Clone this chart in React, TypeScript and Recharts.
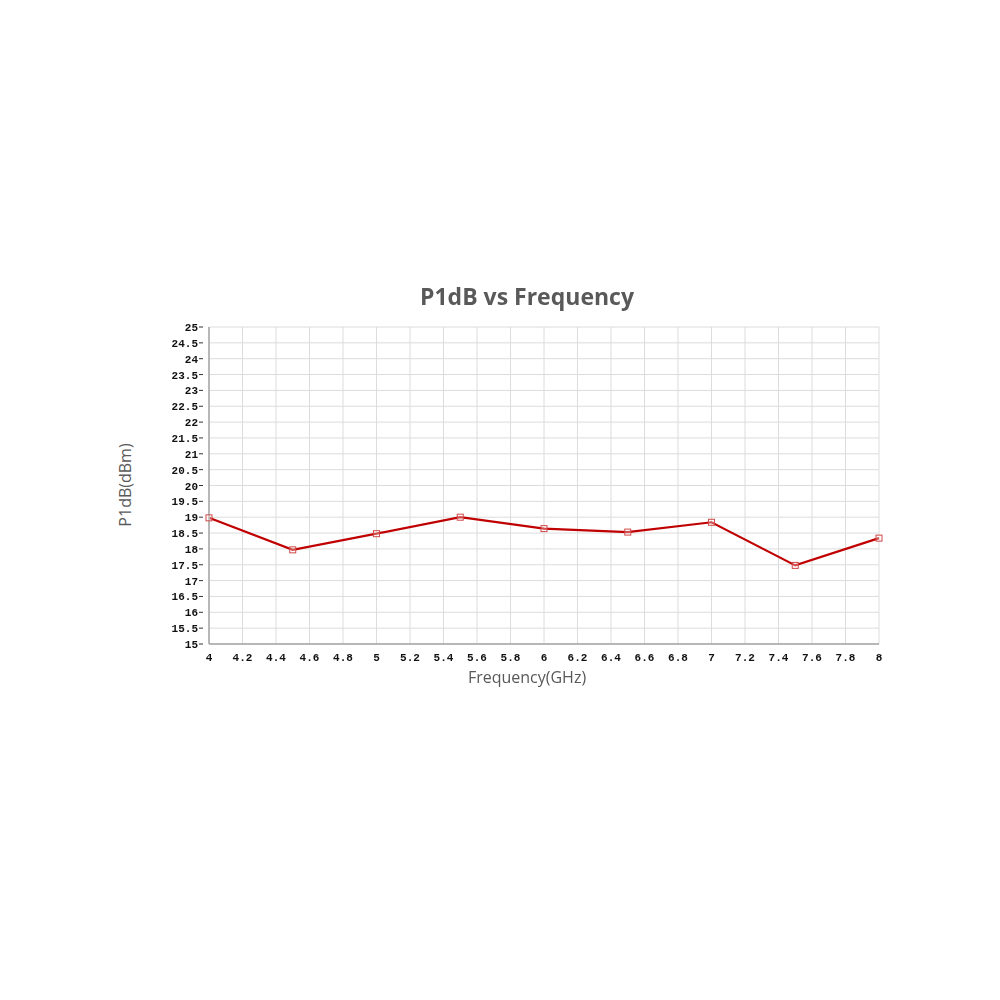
import { LineChart, Line, XAxis, YAxis, CartesianGrid } from "recharts";

const frequency = [4, 4.5, 5, 5.5, 6, 6.5, 7, 7.5, 8];
const p1db = [18.98, 17.97, 18.48, 19.0, 18.64, 18.53, 18.84, 17.48, 18.34];

const xTicks = [4, 4.2, 4.4, 4.6, 4.8, 5, 5.2, 5.4, 5.6, 5.8, 6, 6.2, 6.4, 6.6, 6.8, 7, 7.2, 7.4, 7.6, 7.8, 8];
const yTicks = [15, 15.5, 16, 16.5, 17, 17.5, 18, 18.5, 19, 19.5, 20, 20.5, 21, 21.5, 22, 22.5, 23, 23.5, 24, 24.5, 25];

const data = frequency.map((f, i) => ({ f, v: p1db[i] }));

const tickFont = "'Liberation Mono', 'DejaVu Sans Mono', monospace";
const labelColor = "#595959";

function YTick(props: any) {
  const { x, y, payload } = props;
  return (
    <g>
      <line x1={x - 8} x2={x - 4} y1={y} y2={y} stroke="#333" strokeWidth={1} />
      <text x={x - 9} y={y} dy={4} textAnchor="end" fontFamily={tickFont} fontWeight="bold" fontSize={11} fill="#111">
        {payload.value}
      </text>
    </g>
  );
}

function XTick(props: any) {
  const { x, y, payload } = props;
  return (
    <text x={x} y={y} dy={15} textAnchor="middle" fontFamily={tickFont} fontWeight="bold" fontSize={11} fill="#111">
      {payload.value}
    </text>
  );
}

function SquareDot(props: any) {
  const { cx, cy } = props;
  if (cx == null || cy == null) return null;
  return <rect x={cx - 3} y={cy - 3} width={6} height={6} fill="#fff" fillOpacity={0.3} stroke="#d04848" strokeWidth={1} />;
}

export default function App() {
  return (
    <div style={{ position: "fixed", left: 0, top: 0, width: 1000, height: 1000, background: "#fff" }}>
      <div
        style={{
          position: "absolute", left: 0, top: 280, width: 1054, textAlign: "center",
          fontFamily: "'Open Sans', sans-serif", fontWeight: 700, fontSize: 23, color: labelColor,
        }}
      >
        P1dB vs Frequency
      </div>
      <div
        style={{
          position: "absolute", left: 0, top: 666, width: 1054, textAlign: "center",
          fontFamily: "'Open Sans', sans-serif", fontSize: 16, color: labelColor,
        }}
      >
        Frequency(GHz)
      </div>
      <div
        style={{
          position: "absolute", left: 125, top: 485, transform: "translate(-50%, -50%) rotate(-90deg)",
          fontFamily: "'Open Sans', sans-serif", fontSize: 16, color: labelColor, whiteSpace: "nowrap",
        }}
      >
        P1dB(dBm)
      </div>
      <LineChart width={1000} height={1000} data={data} margin={{ top: 327, right: 121, bottom: 316, left: 149 }}>
        <CartesianGrid stroke="#dcdcdc" strokeWidth={1} />
        <XAxis
          dataKey="f"
          type="number"
          domain={[4, 8]}
          ticks={xTicks}
          interval={0}
          tickLine={false}
          tickSize={0}
          tick={<XTick />}
          axisLine={{ stroke: "#a6a6a6", strokeWidth: 1.5 }}
          height={40}
        />
        <YAxis
          type="number"
          domain={[15, 25]}
          ticks={yTicks}
          interval={0}
          tickLine={false}
          tickSize={0}
          tick={<YTick />}
          axisLine={{ stroke: "#a6a6a6", strokeWidth: 1.5 }}
          width={60}
        />
        <Line
          type="linear"
          dataKey="v"
          stroke="#c00000"
          strokeWidth={2.2}
          dot={<SquareDot />}
          isAnimationActive={false}
        />
      </LineChart>
    </div>
  );
}
